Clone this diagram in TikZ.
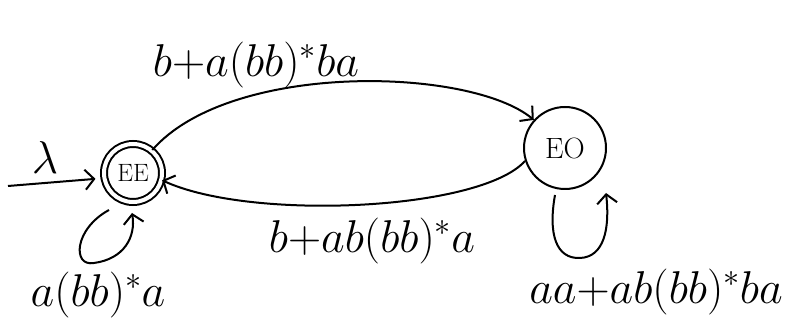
\RequirePackage{fix-cm}
\documentclass[tikz,border=0pt]{standalone}
\usetikzlibrary{arrows.meta}
\begin{document}
\begin{tikzpicture}[x=1pt,y=1pt,
  line width=2pt,
  >={Straight Barb[length=9pt,width=20pt,line width=2pt]},
  lbl/.style={font=\fontsize{46}{52}\selectfont, inner sep=0pt},
  accst/.style={circle, draw, double, double distance=4pt, minimum size=58pt, inner sep=0pt},
  plainst/.style={circle, draw, minimum size=82pt, inner sep=0pt}]
\useasboundingbox (0,0) rectangle (804,329);
\fill[white] (0,0) rectangle (804,329);
% states
\node[accst] (EE) at (133,156) {\scalebox{1.45}{\LARGE EE}};
\node[plainst] (EO) at (565,181) {\scalebox{1.7}{\LARGE EO}};
% initial arrow
\coordinate (start) at (8,143);
\draw[->, shorten >=8pt] (start) -- (EE.190);
\node[lbl] (lam) at (45,171) {$\lambda$};
% top edge
\draw[->] (EE.50) .. controls (230,268) and (470,262) .. (EO.138);
\node[lbl] (toplbl) at (256,264) {$b{+}a(bb)^{\ast}ba$};
% bottom edge
\draw[->] (EO.198) .. controls (480,118) and (250,108) .. (EE.-14);
\node[lbl] (botlbl) at (372,88) {$b{+}ab(bb)^{\ast}a$};
% EE self loop
\coordinate (ees) at (109,119);
\coordinate (eee) at (132,116);
\draw[->] (ees) .. controls (74,100) and (72,62) .. (94,66)
          .. controls (124,70) and (136,92) .. (eee);
\node[lbl] (eelbl) at (98,34) {$a(bb)^{\ast}a$};
% EO self loop
\coordinate (eos) at (555,134);
\coordinate (eoe) at (606,136);
\draw[->] (eos) .. controls (548,95) and (556,70) .. (580,71)
          .. controls (604,72) and (610,100) .. (eoe);
\node[lbl] (eolbl) at (656,37) {$aa{+}ab(bb)^{\ast}ba$};
\end{tikzpicture}
\end{document}
